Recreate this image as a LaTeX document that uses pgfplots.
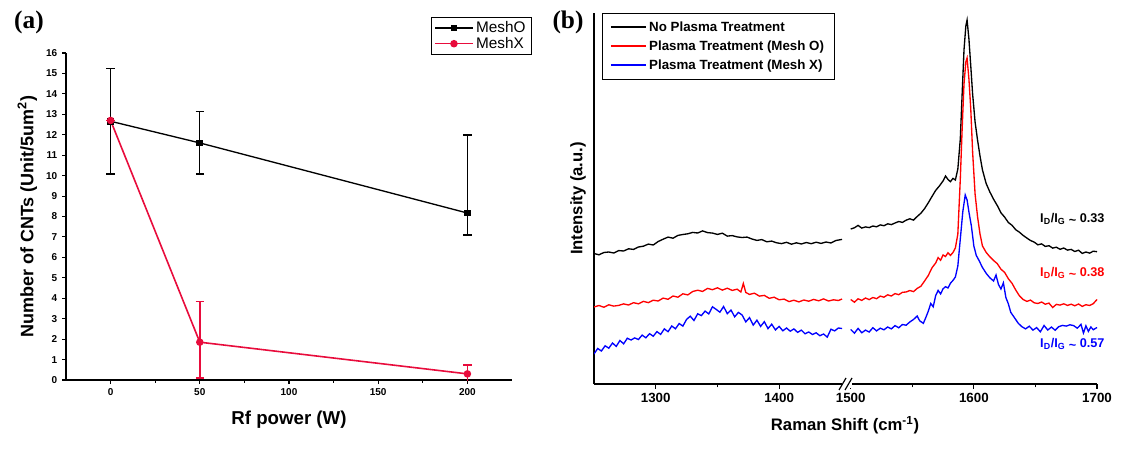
\documentclass[border=0pt]{standalone}
\usepackage{pgfplots}
\pgfplotsset{compat=1.18}
\usepackage{fontspec}
\setmainfont{Liberation Sans}
\newfontfamily\serifbf{Liberation Serif}
\definecolor{meshx}{RGB}{232,12,60}
\definecolor{specred}{RGB}{255,0,0}
\definecolor{specblue}{RGB}{0,0,255}
\pgfplotsset{
  /pgf/number format/assume math mode=true,
  /pgf/number format/1000 sep={},
}

% Raman spectra (intensity in arbitrary units)
\pgfplotstableread{
x y
1250 130.5
1254 129.2
1258 131.5
1262 132.0
1266 131.0
1270 133.4
1274 133.0
1278 135.2
1282 134.6
1286 137.0
1290 137.8
1294 139.9
1298 139.0
1302 142.5
1306 144.8
1310 146.9
1314 145.8
1318 148.6
1322 149.5
1326 150.2
1330 151.6
1334 151.0
1338 153.1
1342 151.4
1346 150.9
1350 149.6
1354 150.8
1358 147.9
1362 148.4
1366 147.1
1370 146.5
1374 146.9
1378 145.0
1382 143.6
1386 144.4
1390 142.2
1394 142.9
1398 141.2
1402 140.4
1406 141.7
1410 139.8
1414 141.2
1418 140.0
1422 141.5
1426 140.3
1430 141.8
1434 140.6
1438 142.0
1442 141.0
1446 143.5
1451 144.6
}\blackL
\pgfplotstableread{
x y
1250 77.0
1254 78.5
1258 76.8
1262 79.2
1266 77.9
1270 78.6
1274 80.1
1278 79.0
1282 81.3
1286 80.2
1290 82.6
1294 81.4
1298 83.8
1302 83.0
1306 85.9
1310 84.7
1314 88.0
1318 86.8
1322 90.2
1326 89.1
1330 92.5
1334 93.8
1338 92.6
1342 95.6
1346 94.3
1350 96.2
1354 93.9
1358 95.8
1362 93.6
1366 94.8
1369 92.0
1371 100.5
1373 91.5
1376 89.6
1380 90.8
1384 87.9
1388 88.6
1392 85.7
1396 86.8
1400 84.2
1404 84.9
1408 82.4
1412 83.8
1416 82.1
1420 84.0
1424 82.8
1428 84.6
1432 83.2
1436 85.1
1440 83.0
1444 84.2
1448 83.5
1451 85.0
}\redL
\pgfplotstableread{
x y
1250 30.0
1253 35.5
1256 33.0
1259 38.2
1262 35.8
1265 41.0
1268 37.6
1271 43.5
1274 40.2
1277 45.8
1280 44.0
1283 46.1
1286 44.5
1289 48.9
1292 46.2
1295 50.3
1298 47.8
1301 52.4
1304 49.6
1307 55.1
1310 52.3
1313 58.0
1316 55.2
1319 60.5
1322 57.9
1325 64.6
1328 67.8
1331 63.5
1334 70.2
1337 68.4
1340 72.9
1343 70.1
1346 77.2
1349 74.6
1352 71.8
1355 77.5
1358 70.3
1361 73.9
1364 67.2
1367 71.6
1370 69.0
1373 62.1
1376 66.4
1379 58.9
1382 63.8
1385 57.6
1388 62.3
1391 55.4
1394 59.8
1397 54.1
1400 57.6
1403 53.2
1406 56.0
1409 52.8
1412 55.1
1415 51.6
1418 53.9
1421 50.2
1424 52.0
1427 49.5
1430 51.2
1433 48.3
1436 50.0
1439 46.9
1442 54.8
1445 53.1
1448 56.0
1451 55.5
}\blueL
\pgfplotstableread{
x y
1500 155.0
1503 156.2
1506 158.6
1509 155.9
1512 157.1
1515 156.4
1518 158.0
1521 157.2
1524 159.1
1527 158.3
1530 160.2
1533 159.4
1536 161.0
1539 162.5
1542 161.6
1545 163.8
1548 165.2
1551 163.9
1554 167.5
1557 170.8
1560 175.4
1563 181.2
1566 187.5
1569 193.6
1572 198.0
1575 203.1
1577 208.0
1579 204.5
1581 202.3
1583 205.6
1585 204.0
1587 215.0
1589 245.0
1590.5 290.0
1592 334.0
1593.5 358.0
1594.5 364.0
1596 345.0
1597.5 318.0
1599 290.0
1601 262.0
1603 244.0
1605 228.0
1607 214.0
1610 200.5
1613 192.0
1616 184.8
1619 178.5
1622 171.2
1625 166.9
1628 161.5
1631 158.7
1634 154.3
1637 151.8
1640 148.6
1643 146.0
1646 143.5
1649 141.9
1652 139.2
1655 140.1
1658 137.6
1661 138.3
1664 135.9
1667 136.8
1670 134.7
1673 136.0
1676 133.9
1679 134.6
1682 132.5
1685 133.8
1688 130.6
1691 132.0
1694 130.9
1697 132.8
1700 132.3
}\blackR
\pgfplotstableread{
x y
1500 84.5
1503 81.8
1506 85.2
1509 83.6
1512 86.0
1515 84.4
1518 86.5
1521 85.3
1524 87.9
1527 86.8
1530 89.2
1533 88.0
1536 90.4
1539 89.3
1542 91.7
1545 92.0
1548 93.5
1551 92.4
1554 95.6
1557 97.8
1560 103.0
1563 108.5
1566 116.2
1569 121.0
1571 126.4
1573 123.8
1575 129.0
1577 127.5
1579 131.2
1581 128.6
1583 131.4
1585 136.0
1587 150.0
1589 205.0
1590.5 255.0
1592 300.0
1593.5 322.0
1594.5 326.0
1596 305.0
1597.5 275.0
1599 232.0
1601 190.0
1603 167.3
1605 150.0
1607 138.0
1610 131.6
1613 127.2
1616 123.5
1619 120.4
1622 114.8
1625 111.6
1628 105.3
1631 100.7
1634 94.0
1637 88.2
1640 84.5
1643 82.6
1646 83.9
1649 81.2
1652 80.5
1655 82.0
1658 79.8
1661 80.9
1664 76.5
1667 79.6
1670 78.9
1673 80.2
1676 78.6
1679 79.8
1682 78.2
1685 80.0
1688 77.6
1691 79.3
1694 78.5
1697 80.4
1700 84.5
}\redR
\pgfplotstableread{
x y
1500 54.5
1503 50.8
1506 55.6
1509 51.2
1512 53.9
1515 52.0
1518 56.3
1521 53.1
1524 55.8
1527 54.2
1530 57.0
1533 55.1
1536 58.4
1539 56.2
1542 59.5
1545 58.8
1548 62.0
1551 64.5
1554 68.0
1556 63.2
1559 60.7
1561 66.5
1563 72.8
1565 80.5
1567 77.2
1569 88.4
1571 93.6
1573 90.1
1575 95.2
1577 97.3
1579 96.0
1581 100.8
1583 103.5
1585 107.0
1587 118.0
1589 145.0
1591 172.0
1593 189.0
1594.5 184.0
1596 172.0
1598 158.0
1600 138.0
1602 128.5
1604 124.0
1607 116.5
1610 110.7
1613 106.2
1616 103.0
1618 109.0
1620 99.5
1622 95.0
1624 101.2
1626 86.5
1628 80.2
1630 71.6
1633 66.3
1636 60.8
1639 57.3
1642 55.1
1645 57.8
1648 53.9
1651 56.4
1654 52.2
1657 58.5
1660 54.0
1663 56.9
1666 53.8
1669 57.4
1672 58.6
1675 57.9
1678 59.2
1681 58.4
1684 55.8
1687 59.6
1689 51.0
1691 58.2
1693 52.6
1695 57.0
1697 54.3
1700 56.5
}\blueR

\begin{document}
\begin{tikzpicture}[x=0.75pt,y=0.75pt]
\useasboundingbox (0,0) rectangle (1122,451);

% ---------- (a) ----------
\begin{axis}[
  at={(49.5pt,53.25pt)}, anchor=south west,
  scale only axis, width=334.5pt, height=245.25pt,
  xmin=-25, xmax=225, ymin=0, ymax=16,
  axis x line=bottom, axis y line=left,
  axis line style={-, line width=1pt},
  tick align=outside,
  xtick={0,50,100,150,200}, minor x tick num=1,
  ytick={0,1,...,16},
  major tick length=3pt, minor tick length=2pt,
  every tick/.style={black, line width=0.8pt},
  tick label style={font=\fontsize{7.5}{9}\selectfont\bfseries},
  xlabel={Rf power (W)},
  ylabel={Number of CNTs (Unit/5um\textsuperscript{2})},
  xlabel style={font=\fontsize{14}{16}\selectfont\bfseries,
    at={(axis description cs:0.5,0)}, anchor=center, yshift=-30pt},
  ylabel style={font=\fontsize{13.5}{16}\selectfont\bfseries,
    at={(axis description cs:0,0.5)}, anchor=center, yshift=29pt},
  clip=true,
  legend style={at={(1.043,1.11)}, anchor=north east, draw=black,
    line width=0.5pt, font=\fontsize{11.5}{13}\selectfont,
    inner xsep=2pt, inner ysep=1pt, row sep=-2pt},
  legend cell align=left,
  legend image code/.code={\draw[mark repeat=2, mark phase=2, #1]
    plot coordinates {(0pt,0pt) (14pt,0pt) (28pt,0pt)};},
]
\addplot[black, line width=1pt, mark=square*, mark size=2pt,
  error bars/.cd, y dir=both, y explicit,
  error bar style={black, line width=1pt},
  error mark options={black, rotate=90, mark size=3.2pt, line width=1pt}]
  coordinates {
  (0,12.66) += (0,2.57) -= (0,2.58)
  (50,11.6) += (0,1.55) -= (0,1.52)
  (200,8.17) += (0,3.81) -= (0,1.07)
};
\addplot[meshx, line width=1.2pt, mark=*, mark size=2.2pt,
  error bars/.cd, y dir=both, y explicit,
  error bar style={meshx, line width=1.3pt},
  error mark options={meshx, rotate=90, mark size=3.2pt, line width=1.2pt}]
  coordinates {
  (0,12.7) += (0,0) -= (0,0)
  (50,1.85) += (0,1.99) -= (0,1.75)
  (200,0.3) += (0,0.43) -= (0,0.43)
};
\legend{MeshO,MeshX}
\end{axis}

% ---------- (b), left of the break ----------
\begin{axis}[
  at={(445.5pt,50.25pt)}, anchor=south west,
  scale only axis, width=189.75pt, height=278.25pt,
  xmin=1250, xmax=1455, ymin=0, ymax=371,
  axis x line=bottom, axis y line=left,
  axis line style={-, line width=1.1pt},
  tick align=outside,
  xtick={1300,1400}, minor xtick={1350},
  ytick=\empty,
  major tick length=3.5pt, minor tick length=2.5pt,
  every tick/.style={black, line width=0.9pt},
  tick label style={font=\fontsize{10}{12}\selectfont\bfseries},
  ylabel={Intensity (a.u.)},
  ylabel style={font=\fontsize{12.5}{14}\selectfont\bfseries,
    at={(axis description cs:0,0.5)}, anchor=center, yshift=12pt},
  legend style={at={(0.03,1.0)}, anchor=north west, draw=black,
    line width=0.8pt, font=\fontsize{10}{12}\selectfont\bfseries,
    inner xsep=6pt, inner ysep=4pt, row sep=1.5pt},
  legend cell align=left,
  legend image code/.code={\draw[#1, line width=1.3pt] (0pt,0pt) -- (26pt,0pt);},
]
\addplot[black, line width=1pt] table {\blackL};
\addplot[specred, line width=1pt] table {\redL};
\addplot[specblue, line width=1pt] table {\blueL};
\legend{No Plasma Treatment,Plasma Treatment (Mesh O),Plasma Treatment (Mesh X)}
\end{axis}

% ---------- (b), right of the break ----------
\begin{axis}[
  at={(635.25pt,50.25pt)}, anchor=south west,
  scale only axis, width=187.5pt, height=278.25pt,
  xmin=1497, xmax=1700, ymin=0, ymax=371,
  axis x line=bottom, axis y line=none,
  axis line style={-, line width=1.1pt},
  tick align=outside,
  xtick={1500,1600,1700}, minor xtick={1550,1650},
  ytick=\empty,
  major tick length=3.5pt, minor tick length=2.5pt,
  every tick/.style={black, line width=0.9pt},
  tick label style={font=\fontsize{10}{12}\selectfont\bfseries},
  clip=false,
]
\addplot[black, line width=1pt] table {\blackR};
\addplot[specred, line width=1pt] table {\redR};
\addplot[specblue, line width=1pt] table {\blueR};
\node[font=\fontsize{9.5}{10}\selectfont\bfseries, text=black]
  at (axis cs:1680,165) {I\textsubscript{D}/I\textsubscript{G} \raisebox{-0.25ex}{\textasciitilde} 0.33};
\node[font=\fontsize{9.5}{10}\selectfont\bfseries, text=specred]
  at (axis cs:1680,111) {I\textsubscript{D}/I\textsubscript{G} \raisebox{-0.25ex}{\textasciitilde} 0.38};
\node[font=\fontsize{9.5}{10}\selectfont\bfseries, text=specblue]
  at (axis cs:1680,40) {I\textsubscript{D}/I\textsubscript{G} \raisebox{-0.25ex}{\textasciitilde} 0.57};
\end{axis}

% axis break marks and the shared x label
\fill[white] (842,63) rectangle (852,71);
\draw[line width=0.9pt] (839,61) -- (846,73);
\draw[line width=0.9pt] (845,61) -- (852,73);
\node[font=\fontsize{12.5}{14}\selectfont\bfseries] at (845,26)
  {Raman Shift (cm\textsuperscript{-1})};

% panel letters
\node[font=\serifbf\fontsize{19}{20}\selectfont\bfseries] at (29,429) {(a)};
\node[font=\serifbf\fontsize{19}{20}\selectfont\bfseries] at (568,429) {(b)};
\end{tikzpicture}
\end{document}
